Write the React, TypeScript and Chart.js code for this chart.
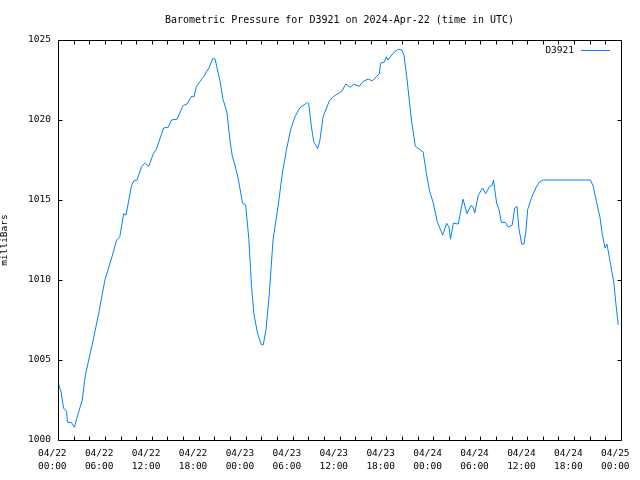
import { useEffect, useRef } from "react";
import { Chart, registerables } from "chart.js";

Chart.register(...registerables);

const TITLE = "Barometric Pressure for D3921 on 2024-Apr-22 (time in UTC)";
const SERIES_NAME = "D3921";
const Y_TITLE = "milliBars";
const FONT = "'DejaVu Sans Mono', 'Liberation Mono', monospace";
const LINE_COLOR = "#0080ff";

// hours since 04/22 00:00 UTC
const hours = [
  0.0, 0.4, 0.7, 1.1, 1.2, 1.7, 2.1, 2.4, 3.1, 3.5, 4.5, 5.2, 6.0, 6.9, 7.5, 7.9,
  8.4, 8.7, 9.4, 9.7, 10.1, 10.7, 11.1, 11.6, 12.2, 12.6, 13.5, 14.1, 14.5, 15.2,
  16.0, 16.5, 17.1, 17.4, 17.7, 18.6, 19.35, 19.8, 20.1, 20.5, 20.7, 21.1, 21.6,
  22.0, 22.3, 22.6, 23.06, 23.6, 24.0, 24.4, 24.75, 25.05, 25.5, 26.0, 26.25,
  26.6, 27.0, 27.5, 28.2, 28.7, 29.2, 29.75, 30.3, 30.9, 31.9, 32.05, 32.4, 32.7,
  33.2, 33.5, 33.9, 34.7, 35.2, 35.97, 36.3, 36.8, 37.4, 37.85, 38.5, 39.1, 39.7,
  40.2, 41.1, 41.25, 41.7, 42.0, 42.2, 42.9, 43.5, 43.95, 44.25, 44.6, 45.2, 45.7,
  46.3, 46.7, 47.1, 47.5, 48.0, 48.5, 49.2, 49.7, 50.0, 50.2, 50.55, 51.2, 51.5,
  51.8, 52.3, 52.8, 53.04, 53.3, 53.75, 54.3, 54.7, 55.2, 55.5, 55.7, 55.9, 56.1,
  56.4, 56.7, 57.2, 57.6, 58.1, 58.4, 58.7, 58.95, 59.3, 59.6, 59.85, 60.06, 60.6,
  61.1, 61.6, 62.06, 65.0, 68.1, 68.45, 68.9, 69.3, 69.6, 69.95, 70.2, 70.5, 70.8,
  71.1, 71.35, 71.65,
];

// pressure in milliBars
const pressure = [
  1003.6, 1003.0, 1002.0, 1001.8, 1001.1, 1001.1, 1000.8, 1001.35, 1002.5, 1004.06,
  1006.25, 1007.9, 1010.0, 1011.45, 1012.5, 1012.7, 1014.15, 1014.05, 1015.9, 1016.2,
  1016.25, 1017.1, 1017.3, 1017.1, 1017.9, 1018.2, 1019.5, 1019.55, 1020.0, 1020.05,
  1020.9, 1021.0, 1021.5, 1021.45, 1022.1, 1022.7, 1023.3, 1023.85, 1023.8, 1022.9,
  1022.5, 1021.3, 1020.5, 1018.7, 1017.7, 1017.25, 1016.3, 1014.8, 1014.7, 1012.6,
  1009.6, 1007.9, 1006.7, 1005.95, 1005.95, 1006.9, 1009.0, 1012.5, 1014.8, 1016.7,
  1018.1, 1019.4, 1020.2, 1020.75, 1021.1, 1021.05, 1019.6, 1018.65, 1018.2, 1018.75,
  1020.2, 1021.2, 1021.45, 1021.7, 1021.8, 1022.25, 1022.05, 1022.25, 1022.1, 1022.45,
  1022.55, 1022.45, 1022.9, 1023.55, 1023.6, 1023.95, 1023.75, 1024.2, 1024.42, 1024.38,
  1024.05, 1022.7, 1020.0, 1018.35, 1018.15, 1018.0, 1016.7, 1015.6, 1014.8, 1013.65,
  1012.8, 1013.55, 1013.3, 1012.55, 1013.55, 1013.5, 1014.3, 1015.05, 1014.15, 1014.65,
  1014.6, 1014.2, 1015.3, 1015.75, 1015.4, 1015.85, 1015.9, 1016.25, 1015.5, 1014.8,
  1014.4, 1013.6, 1013.6, 1013.3, 1013.45, 1014.5, 1014.6, 1013.2, 1012.25, 1012.25,
  1013.1, 1014.4, 1015.2, 1015.75, 1016.15, 1016.25, 1016.25, 1016.25, 1015.85, 1014.8,
  1013.95, 1012.9, 1012.0, 1012.25, 1011.45, 1010.6, 1009.8, 1008.5, 1007.2,
];

const dayLabels = ["04/22", "04/23", "04/24", "04/25"];
const X_MIN = 0;
const X_MAX = 72;
const X_TICK_STEP = 2;
const X_LABEL_STEP = 6;
const Y_MIN = 1000;
const Y_MAX = 1025;
const Y_STEP = 5;

const pad2 = (n: number) => (n < 10 ? "0" + n : "" + n);

const framePlugin = {
  id: "gnuframe",
  afterDraw(chart: any) {
    const { ctx, chartArea, scales } = chart;
    const { left, right, top, bottom } = chartArea;
    const L = Math.floor(left) + 0.5;
    const R = Math.floor(right) + 0.5;
    const T = Math.floor(top) + 0.5;
    const B = Math.floor(bottom) + 0.5;
    ctx.save();
    ctx.strokeStyle = "#000";
    ctx.lineWidth = 1;
    ctx.beginPath();
    ctx.moveTo(L, T);
    ctx.lineTo(R, T);
    ctx.lineTo(R, B);
    ctx.lineTo(L, B);
    ctx.closePath();
    const tl = 4;
    scales.x.ticks.forEach((t: any) => {
      const px = Math.round(scales.x.getPixelForValue(t.value)) + 0.5;
      ctx.moveTo(px, B);
      ctx.lineTo(px, B - tl);
      ctx.moveTo(px, T);
      ctx.lineTo(px, T + tl);
    });
    scales.y.ticks.forEach((t: any) => {
      const py = Math.round(scales.y.getPixelForValue(t.value)) + 0.5;
      ctx.moveTo(L, py);
      ctx.lineTo(L + tl, py);
      ctx.moveTo(R, py);
      ctx.lineTo(R - tl, py);
    });
    ctx.stroke();

    // title
    ctx.fillStyle = "#000";
    ctx.font = `10px ${FONT}`;
    ctx.textAlign = "center";
    ctx.textBaseline = "middle";
    ctx.fillText(TITLE, (left + right) / 2, 20.5);

    // legend
    ctx.font = `9.5px ${FONT}`;
    ctx.textAlign = "right";
    ctx.fillText(SERIES_NAME, right - 47, 51);
    ctx.strokeStyle = LINE_COLOR;
    ctx.beginPath();
    ctx.moveTo(right - 40, 50.5);
    ctx.lineTo(right - 11, 50.5);
    ctx.stroke();
    ctx.restore();
  },
};

export default function App() {
  const ref = useRef<HTMLCanvasElement | null>(null);

  useEffect(() => {
    if (!ref.current) return;
    const points = hours.map((h, i) => ({ x: h, y: pressure[i] }));
    const chart = new Chart(ref.current, {
      type: "line",
      data: {
        datasets: [
          {
            label: SERIES_NAME,
            data: points,
            borderColor: LINE_COLOR,
            backgroundColor: LINE_COLOR,
            borderWidth: 1,
            pointRadius: 0,
            tension: 0,
            fill: false,
          },
        ],
      },
      options: {
        animation: false,
        responsive: true,
        maintainAspectRatio: false,
        layout: { padding: { top: 40, right: 19, bottom: 0, left: 0 } },
        plugins: {
          legend: { display: false },
          title: { display: false },
          tooltip: { enabled: false },
        },
        scales: {
          x: {
            type: "linear",
            min: X_MIN,
            max: X_MAX,
            grid: { display: false, drawTicks: false },
            border: { display: false },
            afterFit(scale: any) {
              scale.height = 40;
              scale.paddingLeft = 0;
              scale.paddingRight = 0;
            },
            ticks: {
              stepSize: X_TICK_STEP,
              maxTicksLimit: 100,
              autoSkip: false,
              maxRotation: 0,
              minRotation: 0,
              padding: 7,
              color: "#000",
              font: { family: FONT, size: 9.5, lineHeight: 1.4 },
              callback: (v: any) => {
                const h = Number(v);
                if (h % X_LABEL_STEP !== 0) return "";
                const day = dayLabels[Math.floor(h / 24)];
                return [day + "  ", pad2(h % 24) + ":00  "];
              },
            },
          },
          y: {
            type: "linear",
            min: Y_MIN,
            max: Y_MAX,
            grid: { display: false, drawTicks: false },
            border: { display: false },
            afterFit(scale: any) {
              scale.width = 58;
            },
            title: {
              display: true,
              text: Y_TITLE,
              color: "#000",
              padding: 0,
              font: { family: FONT, size: 9.5, lineHeight: 1 },
            },
            ticks: {
              stepSize: Y_STEP,
              padding: 7,
              color: "#000",
              font: { family: FONT, size: 9.5 },
              callback: (v: any) => String(v),
            },
          },
        },
      },
      plugins: [framePlugin],
    });
    return () => chart.destroy();
  }, []);

  return (
    <div style={{ position: "fixed", left: 0, top: 0, width: 640, height: 480, background: "#fff" }}>
      <canvas ref={ref} />
    </div>
  );
}
